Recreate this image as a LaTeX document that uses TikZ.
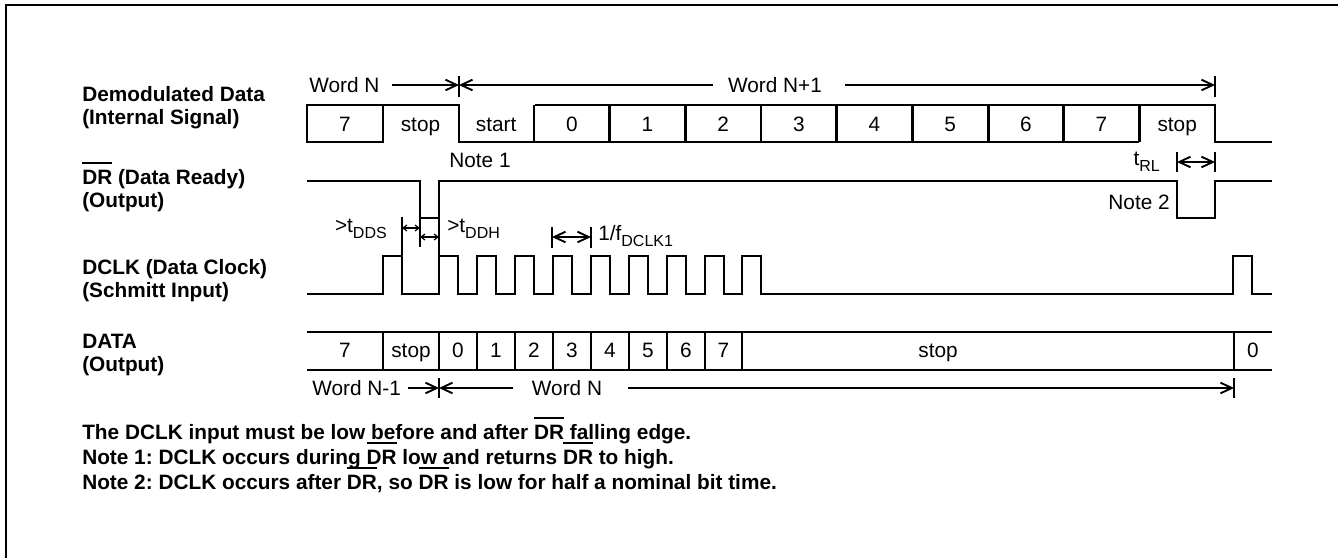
\documentclass[tikz,border=0pt]{standalone}
\usepackage{fontspec}
\setmainfont{Liberation Sans}
\usetikzlibrary{arrows.meta}
\frenchspacing
\newcommand\ovl[1]{\setbox0\hbox{#1}\rlap{\raisebox{\dimexpr\ht0+4.5pt\relax}{\rule{\wd0}{1.5pt}}}\box0\relax}
\newcommand\subtx[1]{\raisebox{-0.32em}{\fontsize{12}{12}\selectfont #1}}
\begin{document}
\begin{tikzpicture}[x=0.75pt,y=-0.75pt,
  wave/.style={line width=2.2pt},
  dimline/.style={line width=1.4pt},
  tickline/.style={line width=1.4pt},
  small/.style={line width=0.9pt,{Straight Barb[length=3pt,width=4.5pt]}-{Straight Barb[length=3pt,width=4.5pt]}},
  barbR/.style={-{Straight Barb[length=8.5pt,width=8pt]}},
  barbL/.style={{Straight Barb[length=8.5pt,width=8pt]}-},
  barbLR/.style={{Straight Barb[length=8.5pt,width=8pt]}-{Straight Barb[length=8.5pt,width=8pt]}},
  txt/.style={font=\fontsize{15.6}{18}\selectfont, inner sep=0pt, anchor=base},
  lbl/.style={font=\fontsize{15.6}{18}\selectfont\bfseries, inner sep=0pt, anchor=base west}]
\useasboundingbox (0,0) rectangle (1338,558);
% frame
\draw[line width=1.9pt] (6,558) -- (6,5) -- (1338,5);

% signal labels
\node[lbl] (l1a) at (82,101.5) {Demodulated Data};
\node[lbl] (l1b) at (82,124.5) {(Internal Signal)};
\node[lbl] (l2a) at (82,184.5) {\ovl{DR} (Data Ready)};
\node[lbl] (l2b) at (82,207.5) {(Output)};
\node[lbl] (l3a) at (82,274.5) {DCLK (Data Clock)};
\node[lbl] (l3b) at (82,297.5) {(Schmitt Input)};
\node[lbl] (l4a) at (82,348.5) {DATA};
\node[lbl] (l4b) at (82,371.5) {(Output)};

% ---- Demodulated data ----
\draw[wave] (307,105) rectangle (383,142);
\draw[wave] (383,105) -- (459,105) -- (459,142) -- (535,142);
\draw[wave] (535,105) -- (1139.3,105);
\draw[wave] (535,142) -- (1139.3,142);
\foreach \i in {3,...,11} \draw[wave] ({307+75.67*\i},105) -- ({307+75.67*\i},142);
\draw[wave] (1139.3,105) -- (1215,105) -- (1215,142) -- (1272,142);
\foreach \t [count=\i from 0] in {7,stop,start,0,1,2,3,4,5,6,7,stop}
  \node[txt] (dm\i) at ({307+75.67*\i+37.8},131) {\t};

% Word N / Word N+1
\node[txt,anchor=base west] (wn) at (309,92.5) {Word N};
\node[txt] (wn1) at (775,92.5) {Word N+1};
\coordinate (wa) at (392,85);
\coordinate (wb) at (459,85);
\coordinate (wc) at (713,85);
\coordinate (wd) at (845,85);
\coordinate (we) at (1215,85);
\draw[dimline,barbR] (wa) -- (wb);
\draw[dimline,barbL] (wb) -- (wc);
\draw[dimline,barbR] (wd) -- (we);
\draw[tickline] (459,76) -- (459,97);
\draw[tickline] (1215,76) -- (1215,97);

% ---- DR ----
\node[txt] (n1) at (480,167.5) {Note 1};
\draw[wave] (307,181) -- (420,181) -- (420,218) -- (439,218) -- (439,181) -- (1177,181) -- (1177,218) -- (1215,218) -- (1215,181) -- (1272,181);
\node[txt,anchor=base east] (n2) at (1170,209.5) {Note 2};
% tRL
\draw[tickline] (1177,152) -- (1177,172);
\draw[tickline] (1215,152) -- (1215,172);
\coordinate (ra) at (1177,162);
\coordinate (rb) at (1215,162);
\draw[dimline,barbLR] (ra) -- (rb);
\node[txt,anchor=base east] (trl) at (1160,165) {t\subtx{RL}};

% ---- DCLK ----
\draw[wave] (307,294) -- (383,294) -- (383,256) -- (402,256) -- (402,294) -- (439,294) -- (439,256) -- (458,256) -- (458,294) -- (477,294) -- (477,256) -- (496,256) -- (496,294) -- (515,294) -- (515,256) -- (534,256) -- (534,294) -- (553,294) -- (553,256) -- (572,256) -- (572,294) -- (591,294) -- (591,256) -- (610,256) -- (610,294) -- (629,294) -- (629,256) -- (648,256) -- (648,294) -- (667,294) -- (667,256) -- (686,256) -- (686,294) -- (705,294) -- (705,256) -- (724,256) -- (724,294) -- (742,294) -- (742,256) -- (761,256) -- (761,294) -- (1233,294) -- (1233,256) -- (1252,256) -- (1252,294) -- (1272,294);
% tDDS / tDDH
\draw[tickline] (402,217) -- (402,256);
\draw[tickline] (420,218) -- (420,247);
\draw[tickline] (439,218) -- (439,256);
\coordinate (sa) at (402,228);
\coordinate (sb) at (420,228);
\coordinate (ha) at (420,237);
\coordinate (hb) at (439,237);
\draw[small] (sa) -- (sb);
\draw[small] (ha) -- (hb);
\node[txt,anchor=base east] (tdds) at (387,232) {>t\subtx{DDS}};
\node[txt,anchor=base west] (tddh) at (447,232) {>t\subtx{DDH}};
% 1/f
\draw[tickline] (552,227) -- (552,248);
\draw[tickline] (591,227) -- (591,248);
\coordinate (fa) at (552,237);
\coordinate (fb) at (591,237);
\draw[dimline,barbLR] (fa) -- (fb);
\node[txt,anchor=base west] (fdclk) at (598,240) {1/f\subtx{DCLK1}};

% ---- DATA ----
\draw[wave] (307,332) -- (1272,332);
\draw[wave] (307,370) -- (1272,370);
\foreach \x in {383,439,477,515,553,591,629,667,705,742,1234}
  \draw[wave] (\x,332) -- (\x,370);
\foreach \t/\x [count=\i] in {7/345,stop/411,0/458,1/496,2/534,3/572,4/610,5/648,6/686,7/723.5,stop/938,0/1253}
  \node[txt] (da\i) at (\x,357) {\t};

% Word N-1 / Word N
\node[txt,anchor=base west] (wm1) at (312,395.5) {Word N-1};
\node[txt] (wm) at (567,395.5) {Word N};
\coordinate (va) at (408,388);
\coordinate (vb) at (439,388);
\coordinate (vc) at (513,388);
\coordinate (vd) at (628,388);
\coordinate (ve) at (1234,388);
\draw[dimline,barbR] (va) -- (vb);
\draw[dimline,barbL] (vb) -- (vc);
\draw[dimline,barbR] (vd) -- (ve);
\draw[tickline] (439,378) -- (439,398);
\draw[tickline] (1234,378) -- (1234,398);

% notes
\node[lbl] (nt1) at (82,439) {The DCLK input must be low before and after \ovl{DR} falling edge.};
\node[lbl] (nt2) at (82,464) {Note 1: DCLK occurs during \ovl{DR} low and returns \ovl{DR} to high.};
\node[lbl] (nt3) at (82,489) {Note 2: DCLK occurs after \ovl{DR}, so \ovl{DR} is low for half a nominal bit time.};
\end{tikzpicture}
\end{document}
